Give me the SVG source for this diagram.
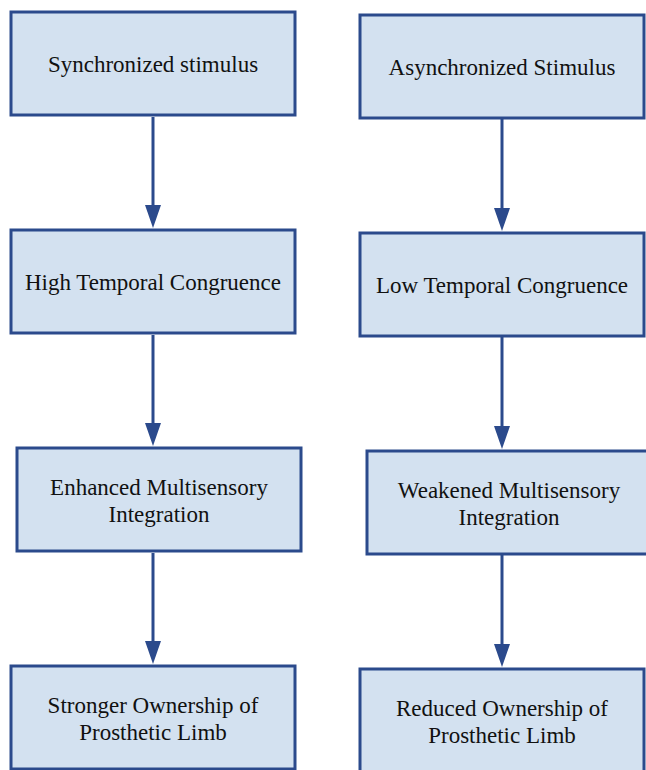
<svg xmlns="http://www.w3.org/2000/svg" width="646" height="770" viewBox="0 0 646 770">
  <style>
    .box { fill: #d3e1f0; stroke: #2b4a8c; stroke-width: 3; }
    .lbl { font-family: "Liberation Serif", "Times New Roman", serif; font-size: 23px; fill: #111111; text-anchor: middle; }
    .edge { stroke: #2b4a8c; stroke-width: 3; fill: none; }
    .head { fill: #2b4a8c; }
  </style>
  <rect width="646" height="770" fill="#ffffff"/>

  <!-- connectors: shaft plus triangular head -->
  <g id="connectors">
    <line class="edge" x1="153" y1="117" x2="153" y2="206"/>
    <path class="head" d="M145,205 L161,205 L153,228 Z"/>
    <line class="edge" x1="153" y1="335" x2="153" y2="424"/>
    <path class="head" d="M145,423 L161,423 L153,446 Z"/>
    <line class="edge" x1="153" y1="553" x2="153" y2="642"/>
    <path class="head" d="M145,641 L161,641 L153,664 Z"/>
    <line class="edge" x1="502" y1="119" x2="502" y2="209"/>
    <path class="head" d="M494,208 L510,208 L502,231 Z"/>
    <line class="edge" x1="502" y1="337" x2="502" y2="427"/>
    <path class="head" d="M494,426 L510,426 L502,449 Z"/>
    <line class="edge" x1="502" y1="555" x2="502" y2="645"/>
    <path class="head" d="M494,644 L510,644 L502,667 Z"/>
  </g>

  <!-- left column -->
  <g id="sync">
    <rect class="box" x="11" y="12" width="284" height="103"/>
    <text class="lbl" x="153" y="72">Synchronized stimulus</text>
  </g>
  <g id="high-congruence">
    <rect class="box" x="11" y="230" width="284" height="103"/>
    <text class="lbl" x="153" y="290">High Temporal Congruence</text>
  </g>
  <g id="enhanced">
    <rect class="box" x="17" y="448" width="284" height="103"/>
    <text class="lbl" x="159" y="495">Enhanced Multisensory</text>
    <text class="lbl" x="159" y="522">Integration</text>
  </g>
  <g id="stronger">
    <rect class="box" x="11" y="666" width="284" height="103"/>
    <text class="lbl" x="153" y="713">Stronger Ownership of</text>
    <text class="lbl" x="153" y="740">Prosthetic Limb</text>
  </g>

  <!-- right column -->
  <g id="async">
    <rect class="box" x="360" y="15" width="284" height="103"/>
    <text class="lbl" x="502" y="75">Asynchronized Stimulus</text>
  </g>
  <g id="low-congruence">
    <rect class="box" x="360" y="233" width="284" height="103"/>
    <text class="lbl" x="502" y="293">Low Temporal Congruence</text>
  </g>
  <g id="weakened">
    <rect class="box" x="367" y="451" width="284" height="103"/>
    <text class="lbl" x="509" y="498">Weakened Multisensory</text>
    <text class="lbl" x="509" y="525">Integration</text>
  </g>
  <g id="reduced">
    <rect class="box" x="360" y="669" width="284" height="103"/>
    <text class="lbl" x="502" y="716">Reduced Ownership of</text>
    <text class="lbl" x="502" y="743">Prosthetic Limb</text>
  </g>
</svg>
